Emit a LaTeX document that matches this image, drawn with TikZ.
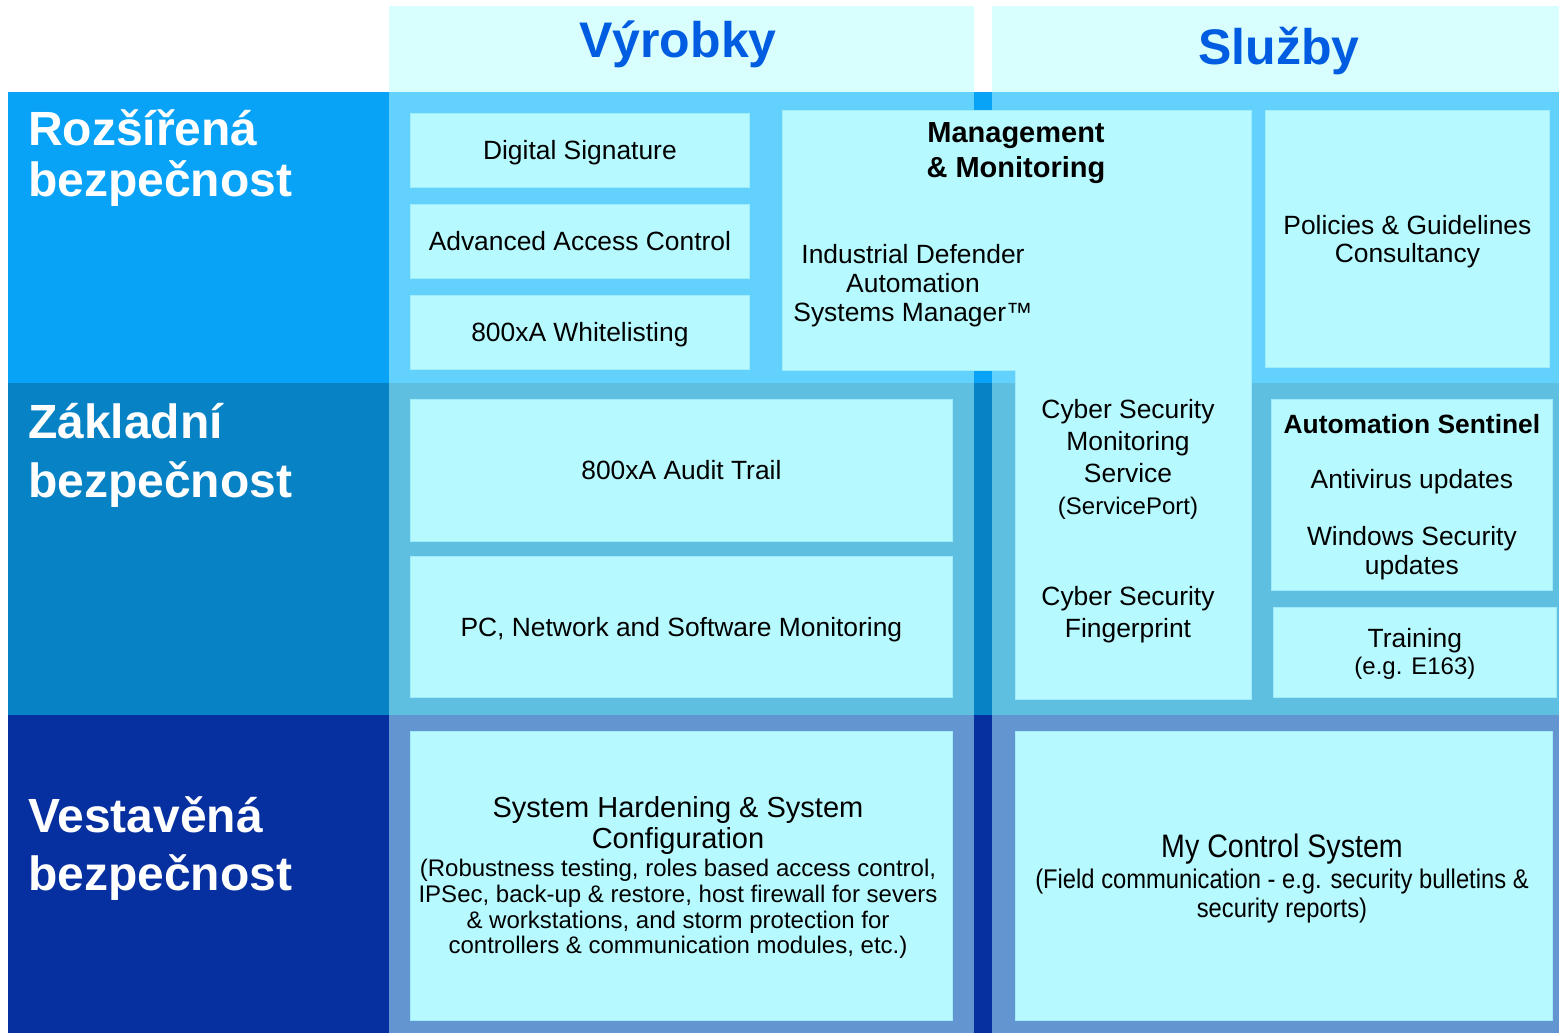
\documentclass[tikz,border=0pt]{standalone}
\usepackage{fontspec}
\setmainfont{Liberation Sans}
\newfontfamily\narrowsans[FakeStretch=0.88]{Liberation Sans}

\definecolor{topband}{RGB}{8,162,246}
\definecolor{topshade}{RGB}{98,209,252}
\definecolor{midband}{RGB}{7,130,196}
\definecolor{midshade}{RGB}{95,191,224}
\definecolor{lowband}{RGB}{6,47,160}
\definecolor{lowshade}{RGB}{99,150,208}
\definecolor{cellfill}{RGB}{182,249,254}
\definecolor{cellline}{RGB}{160,236,250}
\definecolor{headfill}{RGB}{216,254,254}
\definecolor{headtext}{RGB}{0,92,224}

\newcommand\bodyfont{\fontsize{26.4}{28}\selectfont}
\newcommand\smallfont{\fontsize{24}{25.7}\selectfont}

\tikzset{
  cellpaint/.style={draw=cellline, line width=0.8pt, fill=cellfill},
  cell/.style={cellpaint, anchor=north west, inner sep=0pt, align=center, font=\bodyfont},
  onecell/.style={cell, text depth=0pt},
  txt/.style={inner sep=0pt, align=center, font=\bodyfont},
  rowlabel/.style={anchor=west, inner sep=0pt, align=left, text=white},
  colhead/.style={anchor=base, inner sep=0pt, text=headtext, font=\bfseries\fontsize{50}{55}\selectfont},
}

\begin{document}
\begin{tikzpicture}[x=1pt, y=-1pt]
  \useasboundingbox (0,0) rectangle (1559,1033);
  \fill[white] (0,0) rectangle (1559,1033);

  % column headers
  \fill[headfill] (389,6) rectangle (974,92);
  \fill[headfill] (992,6) rectangle (1559,92);
  \node[colhead] (vyrobky) at (678,58) {Výrobky};
  \node[colhead] (sluzby) at (1279,65) {Služby};

  % the three bands
  \fill[topband] (8,92) rectangle (1559,383);
  \fill[midband] (8,383) rectangle (1559,715);
  \fill[lowband] (8,715) rectangle (1559,1033);
  \fill[topshade] (389,92) rectangle (974,383);
  \fill[topshade] (992,92) rectangle (1559,383);
  \fill[midshade] (389,383) rectangle (974,715);
  \fill[midshade] (992,383) rectangle (1559,715);
  \fill[lowshade] (389,715) rectangle (974,1033);
  \fill[lowshade] (992,715) rectangle (1559,1033);

  \node[rowlabel, font=\bfseries\fontsize{48}{51}\selectfont] (rozsirena) at (28,158.5) {Rozšířená\\bezpečnost};
  \node[rowlabel, font=\bfseries\fontsize{48}{59}\selectfont] (zakladni) at (28,455) {Základní\\bezpečnost};
  \node[rowlabel, font=\bfseries\fontsize{48}{58}\selectfont] (vestavena) at (28,849) {Vestavěná\\bezpečnost};

  % products
  \node[onecell, minimum width=339, minimum height=74] (digsig) at (410,113) {Digital Signature};
  \node[onecell, minimum width=339, minimum height=74] (access) at (410,204) {Advanced Access Control};
  \node[onecell, minimum width=339, minimum height=74] (whitelist) at (410,295) {800xA Whitelisting};
  \node[onecell, minimum width=542, minimum height=142] (audit) at (410,399) {800xA Audit Trail};
  \node[onecell, minimum width=542, minimum height=141] (pcnet) at (410,556) {PC, Network and Software Monitoring};
  \node[cell, minimum width=542, minimum height=289] (harden) at (410,731) {};
  \node[txt, font=\fontsize{29}{31}\selectfont] (hardtitle) at (678,825) {System Hardening \& System\\Configuration};
  \node[txt, font=\smallfont] (harddetail) at (678,909) {(Robustness testing, roles based access control,\\IPSec, back-up \& restore, host firewall for severs\\\& workstations, and storm protection for\\controllers \& communication modules, etc.)};

  % management and monitoring
  \filldraw[cellpaint] (782,110) -| (1251,699) -| (1015,370) -| cycle;
  \node[txt, font=\bfseries\fontsize{29}{35}\selectfont] (mgmt) at (1016,153) {Management\\\& Monitoring};
  \node[txt, font=\fontsize{26.4}{29}\selectfont] (defender) at (913,286) {Industrial Defender\\Automation\\Systems Manager™};
  \node[txt, font=\fontsize{26.4}{32}\selectfont] (csmonitor) at (1128,459) {Cyber Security\\Monitoring\\Service\\{\smallfont (ServicePort)}};
  \node[txt, font=\fontsize{26.4}{32}\selectfont] (csprint) at (1128,615) {Cyber Security\\Fingerprint};

  % services
  \node[cell, minimum width=284, minimum height=257] (policy) at (1265,110) {\rule{0pt}{24pt}Policies \& Guidelines\\Consultancy};
  \node[cell, minimum width=281, minimum height=191, font=\fontsize{26.4}{28.5}\selectfont] (sentinel) at (1271,399)
    {\rule{0pt}{24pt}\textbf{Automation Sentinel}\\[26.5pt]Antivirus updates\\[28.5pt]Windows Security\\updates};
  \node[cell, minimum width=283, minimum height=90, font=\fontsize{26.4}{27.5}\selectfont] (training) at (1273,607)
    {\rule{0pt}{22pt}Training\\{\smallfont (e.g. E163)}};
  \node[cell, minimum width=537, minimum height=289] (mycs) at (1015,731) {};
  \node[txt, font=\narrowsans\fontsize{32.5}{34}\selectfont] (mycstitle) at (1282,849) {My Control System};
  \node[txt, font=\narrowsans\fontsize{27}{29}\selectfont] (mycsdetail) at (1282,896) {(Field communication - e.g. security bulletins \&\\security reports)};
\end{tikzpicture}
\end{document}
